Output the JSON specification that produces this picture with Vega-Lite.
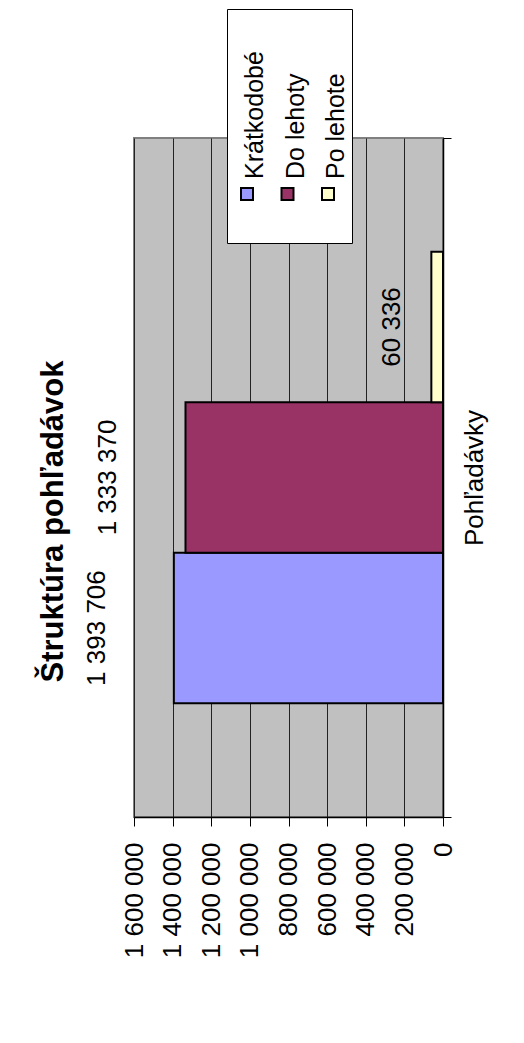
{
  "$schema": "https://vega.github.io/schema/vega-lite/v6.json",
  "width": 309,
  "height": 679,
  "autosize": {"type": "none"},
  "padding": {"left": 134, "top": 138, "right": 81, "bottom": 226},
  "background": "white",
  "config": {
    "font": "Liberation Sans",
    "locale": {"number": {"decimal": ",", "thousands": " ", "grouping": [3], "currency": ["", " €"]}},
    "view": {"fill": "#C0C0C0", "stroke": "#808080", "strokeWidth": 2}
  },
  "title": {
    "text": "Štruktúra pohľadávok",
    "orient": "left",
    "anchor": "middle",
    "fontSize": 31,
    "fontWeight": "bold",
    "color": "#000000",
    "font": "Liberation Sans",
    "dx": -44,
    "offset": 14
  },
  "data": {
    "values": [
      {"kategoria": "Pohľadávky", "seria": "Krátkodobé", "hodnota": 1393706},
      {"kategoria": "Pohľadávky", "seria": "Do lehoty", "hodnota": 1333370},
      {"kategoria": "Pohľadávky", "seria": "Po lehote", "hodnota": 60336}
    ]
  },
  "encoding": {
    "y": {
      "field": "kategoria",
      "type": "nominal",
      "scale": {"paddingInner": 0, "paddingOuter": 0},
      "axis": {
        "orient": "right",
        "title": null,
        "labelAngle": 270,
        "labelAlign": "center",
        "labelBaseline": "top",
        "labelFontSize": 26,
        "labelColor": "#000000",
        "labelFont": "Liberation Sans",
        "labelPadding": 10,
        "tickSize": 8,
        "tickBand": "extent",
        "tickColor": "#000000",
        "domainColor": "#000000",
        "domainWidth": 1.5,
        "grid": false
      }
    },
    "yOffset": {
      "field": "seria",
      "type": "nominal",
      "sort": ["Po lehote", "Do lehoty", "Krátkodobé"],
      "scale": {"paddingInner": 0, "paddingOuter": 0.755}
    },
    "x": {
      "field": "hodnota",
      "type": "quantitative",
      "scale": {"domain": [0, 1600000], "reverse": true, "nice": false, "zero": true},
      "axis": {
        "title": null,
        "values": [0, 200000, 400000, 600000, 800000, 1000000, 1200000, 1400000, 1600000],
        "format": ",.0f",
        "labelAngle": 270,
        "labelAlign": "right",
        "labelBaseline": "middle",
        "labelFontSize": 26,
        "labelColor": "#000000",
        "labelFont": "Liberation Sans",
        "labelPadding": 16,
        "labelOverlap": false,
        "labelFlush": false,
        "tickSize": 9,
        "tickColor": "#000000",
        "domainColor": "#000000",
        "domainWidth": 1.5,
        "grid": true,
        "gridColor": "#222222",
        "gridWidth": 1
      }
    }
  },
  "layer": [
    {
      "mark": {"type": "bar", "stroke": "#000000", "strokeWidth": 2},
      "encoding": {
        "color": {
          "field": "seria",
          "type": "nominal",
          "scale": {
            "domain": ["Krátkodobé", "Do lehoty", "Po lehote"],
            "range": ["#9999FF", "#993366", "#FFFFCC"]
          },
          "legend": {
            "orient": "none",
            "legendX": 93,
            "legendY": -129,
            "direction": "horizontal",
            "title": null,
            "fillColor": "#FFFFFF",
            "strokeColor": "#000000",
            "padding": 3,
            "symbolType": "square",
            "symbolSize": 144,
            "symbolStrokeColor": "#000000",
            "symbolStrokeWidth": 2,
            "symbolOpacity": 1,
            "labelFontSize": 25,
            "labelColor": "#000000",
            "labelFont": "Liberation Sans",
            "labelAlign": "left",
            "labelBaseline": "alphabetic",
            "labelLimit": 400,
            "clipHeight": 228,
            "columnPadding": 2.5,
            "encode": {
              "symbols": {"update": {"x": {"value": 17}, "y": {"value": 182}, "stroke": {"value": "#000000"}, "strokeWidth": {"value": 2}}},
              "labels": {"update": {"angle": {"value": 270}, "x": {"value": 33}, "y": {"value": 167}}}
            }
          }
        }
      }
    },
    {
      "transform": [{"filter": "datum.hodnota < 1000000"}],
      "mark": {"type": "text", "angle": 270, "align": "center", "baseline": "bottom", "xOffset": -26, "fontSize": 26, "color": "#000000", "font": "Liberation Sans"},
      "encoding": {"text": {"field": "hodnota", "type": "quantitative", "format": ",.0f"}}
    },
    {
      "transform": [{"filter": "datum.hodnota >= 1000000"}],
      "mark": {"type": "text", "angle": 270, "align": "center", "baseline": "bottom", "xOffset": -64, "fontSize": 26, "color": "#000000", "font": "Liberation Sans"},
      "encoding": {"text": {"field": "hodnota", "type": "quantitative", "format": ",.0f"}}
    }
  ]
}
